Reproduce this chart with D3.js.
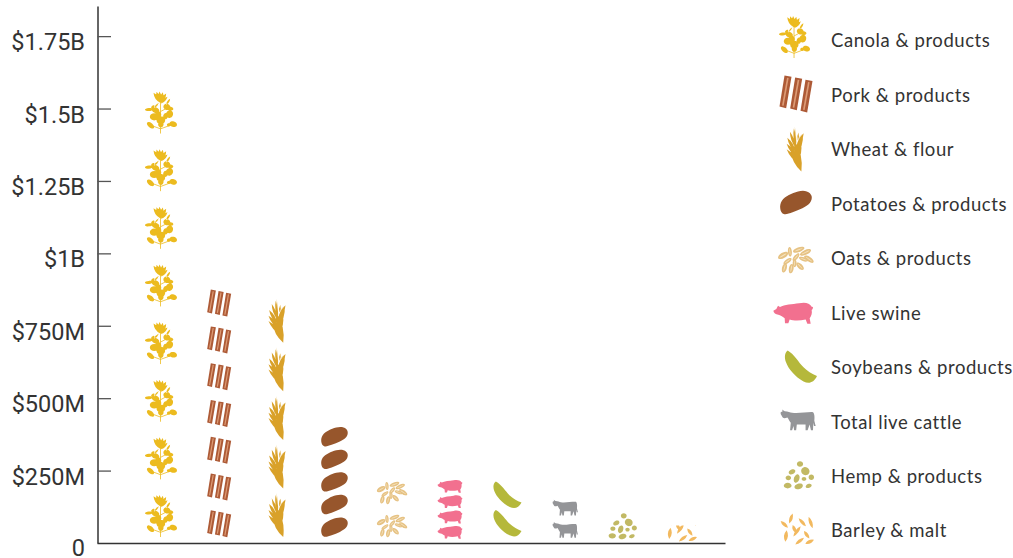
<!DOCTYPE html>
<html>
<head>
<meta charset="utf-8">
<script src="https://cdn.jsdelivr.net/npm/d3@7"></script>
<style>
  html, body { margin: 0; padding: 0; background: #fff; }
  svg { display: block; }
  .y-axis text { font-family: Roboto, sans-serif; font-size: 23.5px; fill: #333; }
  .y-axis .tick line { stroke: #555; stroke-width: 1.3; }
  .y-axis .domain, .x-axis .domain { stroke: #333; stroke-width: 1.5; }
  .legend-label { font-family: Lato, sans-serif; font-size: 18.5px; fill: #333; letter-spacing: 0.55px; }
</style>
</head>
<body>
<div class="vis"></div>
<script>
// farm export pictogram

// data, values in millions of dollars
const CATEGORIES = ['Canola & products', 'Pork & products', 'Wheat & flour', 'Potatoes & products',
                    'Oats & products', 'Live swine', 'Soybeans & products', 'Total live cattle',
                    'Hemp & products', 'Barley & malt'];
const VALUES = [1592, 889, 838, 390, 228, 212, 196, 154, 103, 60];
const ICON_COUNTS = [8, 7, 5, 5, 2, 4, 2, 2, 1, 0.55];
const TICK_VALUES = [0, 250, 500, 750, 1000, 1250, 1500, 1750];
const TICK_LABELS = ['0', '$250M', '$500M', '$750M', '$1B', '$1.25B', '$1.5B', '$1.75B'];

const FRAME_WIDTH = 1013;
const FRAME_HEIGHT = 558;

const FRAME = d3.select('.vis')
    .append('svg')
    .attr('width', FRAME_WIDTH)
    .attr('height', FRAME_HEIGHT);

const Y_SCALE = d3.scaleLinear().domain([0, 1854]).range([543, 6]);
const X_SCALE = d3.scalePoint().domain(CATEGORIES).range([161.5, 680.5]);
const LEGEND_SCALE = d3.scalePoint().domain(CATEGORIES).range([41, 531]);

// lens shape between two points, used for petals, grains, leaves
function lens(x1, y1, x2, y2, w) {
    const mx = (x1 + x2) / 2, my = (y1 + y2) / 2;
    const dx = x2 - x1, dy = y2 - y1;
    const len = Math.sqrt(dx * dx + dy * dy);
    const nx = -dy / len * w * 2, ny = dx / len * w * 2;
    return `M${x1},${y1}Q${mx + nx},${my + ny} ${x2},${y2}Q${mx - nx},${my - ny} ${x1},${y1}Z`;
}

function blob(cx, cy, rx, ry, rot) {
    return d3.line().curve(d3.curveBasisClosed)(d3.range(8).map((i) => {
        const a = i / 8 * Math.PI * 2;
        const r = rot * Math.PI / 180;
        const ex = Math.cos(a) * rx * 1.3, ey = Math.sin(a) * ry * 1.3;
        return [cx + ex * Math.cos(r) - ey * Math.sin(r), cy + ex * Math.sin(r) + ey * Math.cos(r)];
    }));
}

// icon drawings, each in its own little coordinate box
const ICONS = {
    'Canola & products': {box: [96, 126], size: [32, 42], legend: [795, 37], legendSize: [31, 42], gap: 6, draw: (g) => {
        const c = '#ecbb1f';
        const parts = [
            lens(44, 34, 24, 4, 5), lens(44, 34, 33, 1, 5), lens(44, 34, 42, 0, 5), lens(45, 34, 52, 2, 5),
            lens(45, 34, 62, 6, 5), lens(46, 36, 66, 16, 4), lens(62, 40, 74, 22, 3), lens(26, 50, 40, 34, 2.5),
            blob(30, 56, 10, 7, 20), blob(10, 54, 10, 4, -5), blob(64, 46, 9, 8, 20), blob(73, 51, 9, 5, 10),
            blob(26, 76, 11, 9, 0), blob(38, 70, 8, 9, 0), blob(72, 68, 9, 10, 30), blob(46, 86, 11, 10, 0),
            blob(46, 98, 7, 8, 0), blob(15, 101, 11, 6, 40), blob(83, 98, 10, 7, 15), blob(60, 74, 6, 8, 10),
            blob(70, 100, 5, 4, 0), blob(22, 46, 5, 3, -40)
        ];
        g.append('path').attr('d', parts.join('')).attr('fill', c);
        g.append('path').attr('d', 'M45,126L45,25M45,112L18,102M45,112L78,100M45,90L24,78M45,60L68,48')
            .attr('fill', 'none').attr('stroke', c).attr('stroke-width', 2.4);
    }},
    'Pork & products': {box: [99, 112], size: [24, 27], legend: [796, 94], legendSize: [33, 37], gap: 5.7, draw: (g) => {
        [[0, 0], [32, 6], [63, 13]].forEach((s) => {
            g.append('path')
                .attr('d', `M${s[0] + 15},${s[1] + 0}L${s[0] + 36},${s[1] + 4}L${s[0] + 20},${s[1] + 99}L${s[0]},${s[1] + 94}Z`)
                .attr('fill', '#ad5a36');
            g.append('path')
                .attr('d', `M${s[0] + 25},${s[1] + 7}L${s[0] + 10},${s[1] + 91}`)
                .attr('stroke', '#dd9c76').attr('stroke-width', 5).attr('fill', 'none');
        });
    }},
    'Wheat & flour': {box: [55, 135], size: [18, 44], legend: [795, 149], legendSize: [18, 45], gap: 6, draw: (g) => {
        const parts = [
            lens(47, 135, 14, 72, 7), lens(47, 135, 26, 42, 9), lens(40, 112, 2, 68, 5), lens(34, 92, 2, 52, 5),
            lens(30, 78, 4, 34, 5), lens(28, 62, 12, 16, 4), lens(30, 60, 24, 6, 4), lens(32, 62, 54, 20, 5),
            lens(32, 88, 52, 24, 6), lens(34, 108, 46, 50, 6), lens(36, 42, 38, 18, 2.5)
        ];
        g.append('path').attr('d', parts.join('')).attr('fill', '#d9a129');
        g.append('path').attr('d', lens(27, 0, 30, 40, 1.5) + lens(50, 22, 36, 40, 1)).attr('fill', '#eecf8e');
    }},
    'Potatoes & products': {box: [92, 68], size: [26, 19], legend: [796, 203], legendSize: [31, 23], gap: 6, draw: (g) => {
        g.append('path')
            .attr('d', d3.line().curve(d3.curveBasisClosed)([[-3, 50], [1, 26], [24, 10], [52, -2], [80, -3], [96, 12], [90, 36], [66, 50], [36, 62], [6, 72]]))
            .attr('fill', '#97562c');
    }},
    'Oats & products': {box: [100, 77], size: [29, 22], legend: [796, 260], legendSize: [34, 26], gap: 6, draw: (g) => {
        const grains = [[12, 25, 7, 14, 60], [32, 14, 5, 12, -5], [58, 8, 6, 15, 70], [78, 16, 6, 15, 65], [88, 36, 6, 14, 125],
            [25, 42, 5, 12, 55], [50, 30, 5, 12, 40], [72, 36, 5, 12, 110], [16, 62, 6, 12, 15], [36, 64, 6, 12, 10], [62, 57, 6, 12, 135], [46, 48, 5, 10, 0]];
        grains.forEach((d) => {
            g.append('path').attr('d', blob(d[0], d[1], d[2], d[3], d[4])).attr('fill', '#e6c283');
            g.append('path').attr('d', blob(d[0], d[1], d[2] * 0.2, d[3] * 0.7, d[4])).attr('fill', '#f5e3c0');
        });
    }},
    'Live swine': {box: [120, 65], size: [25, 13.5], legend: [793, 313], legendSize: [40, 22], gap: 4, draw: (g) => {
        g.append('path')
            .attr('d', 'M1,26L10,21L15,11L21,15C34,8 58,7 78,4C94,0 110,2 116,14L120,15L119,21L116,24C118,34 115,42 110,48L113,64L103,64L98,52C80,56 62,56 50,52L46,63L36,63L35,48C28,44 22,39 16,38C8,37 2,32 1,26Z')
            .attr('fill', '#f2708f');
    }},
    'Soybeans & products': {box: [95, 98], size: [28, 27], legend: [801, 367], legendSize: [32, 33], gap: 6, draw: (g) => {
        g.append('path')
            .attr('d', 'M8,0C-2,8 -2,22 3,35C10,55 30,78 55,92C70,100 85,97 95,76C80,70 65,60 55,50C40,35 28,12 8,0Z')
            .attr('fill', '#b5b83b');
    }},
    'Total live cattle': {box: [107, 64], size: [26, 16], legend: [798, 420], legendSize: [36, 21], gap: 5, draw: (g) => {
        g.append('path')
            .attr('d', 'M2,8L8,5L6,0L14,5C24,6 30,8 36,10C55,13 80,7 98,8C103,12 103,24 102,34L106,50L101,50L99,40L98,63L92,63L88,46L82,63L76,63L76,46C66,46 58,46 50,46L48,63L42,63L40,50L36,63L30,63L32,40C28,34 26,30 22,24C16,26 12,28 8,24L2,14Z')
            .attr('fill', '#949598');
    }},
    'Hemp & products': {box: [90, 83], size: [28, 26], legend: [799, 475], legendSize: [30, 28], gap: 4, draw: (g) => {
        const seeds = [[48, 9, 8, 7, 0], [24, 32, 9, 6, -25], [64, 30, 11, 10, 30], [82, 48, 7, 7, 0], [13, 50, 7, 6, 0], [38, 52, 7, 11, 20],
            [60, 53, 6, 5, 0], [11, 73, 10, 7, 0], [44, 75, 11, 7, -15], [74, 74, 8, 5, -20]];
        seeds.forEach((d) => {
            g.append('path').attr('d', blob(d[0], d[1], d[2], d[3], d[4])).attr('fill', '#c2b964');
        });
    }},
    'Barley & malt': {box: [102, 92], size: [33, 30], legend: [797, 529], legendSize: [34, 31], gap: 1.5, draw: (g) => {
        const parts = [lens(2, 22, 24, 42, 5), lens(38, 0, 28, 30, 5), lens(56, 14, 78, 38, 5), lens(86, 10, 98, 44, 5),
            lens(38, 34, 48, 58, 5), lens(16, 84, 20, 50, 6), lens(40, 68, 62, 38, 5), lens(72, 52, 88, 74, 5),
            lens(46, 92, 72, 72, 5), lens(76, 90, 102, 78, 5)];
        g.append('path').attr('d', parts.join('')).attr('fill', '#f2b95f');
    }}
};

// icon drawings as reusable symbols
const DEFS = FRAME.append('defs');
CATEGORIES.forEach((c, i) => {
    const icon = ICONS[c];
    const sym = DEFS.append('symbol')
        .attr('id', 'icon' + i)
        .attr('viewBox', `0 0 ${icon.box[0]} ${icon.box[1]}`)
        .attr('preserveAspectRatio', 'none')
        .attr('overflow', 'visible');
    icon.draw(sym);
});

// one row per icon in the stack
const STACKED = [];
CATEGORIES.forEach((c, i) => {
    const perIcon = VALUES[i] / ICON_COUNTS[i];
    for (let k = 0; k < ICON_COUNTS[i]; k++) {
        STACKED.push({cat: c, idx: i, base: perIcon * k, top: perIcon * Math.min(k + 1, ICON_COUNTS[i]), whole: k + 1 <= ICON_COUNTS[i]});
    }
});

// partly filled icons get cut off at their value
STACKED.filter((d) => !d.whole).forEach((d) => {
    DEFS.append('clipPath').attr('id', 'cut' + d.idx)
        .append('rect')
        .attr('x', 0)
        .attr('y', Y_SCALE(d.top))
        .attr('width', FRAME_WIDTH)
        .attr('height', FRAME_HEIGHT);
});

FRAME.selectAll('.pict')
    .data(STACKED)
    .enter().append('g')
    .attr('class', 'pict')
    .attr('clip-path', (d) => d.whole ? null : `url(#cut${d.idx})`)
    .append('use')
    .attr('href', (d) => '#icon' + d.idx)
    .attr('width', (d) => ICONS[d.cat].size[0])
    .attr('height', (d) => ICONS[d.cat].size[1])
    .attr('x', (d) => X_SCALE(d.cat) - ICONS[d.cat].size[0] / 2)
    .attr('y', (d) => Y_SCALE(d.base) - ICONS[d.cat].gap - ICONS[d.cat].size[1]);

// axes
const Y_AXIS = FRAME.append('g')
    .attr('class', 'y-axis')
    .attr('transform', 'translate(97.5,0)')
    .call(d3.axisLeft(Y_SCALE)
        .tickValues(TICK_VALUES)
        .tickFormat((d, i) => TICK_LABELS[i])
        .tickSizeInner(-13.5)
        .tickSizeOuter(0)
        .tickPadding(12.5));
Y_AXIS.selectAll('.tick text').attr('dy', (d) => d === 0 ? '0.53em' : '0.58em');
Y_AXIS.selectAll('.tick').filter((d) => d === 0).select('line').remove();

FRAME.append('g')
    .attr('class', 'x-axis')
    .attr('transform', 'translate(0,543)')
    .call(d3.axisBottom(d3.scaleLinear().range([97, 725])).tickValues([]).tickSizeOuter(0));

// legend
const LEGEND = FRAME.selectAll('.legend')
    .data(CATEGORIES)
    .enter().append('g')
    .attr('class', 'legend');

LEGEND.append('use')
    .attr('href', (d, i) => '#icon' + i)
    .attr('width', (d) => ICONS[d].legendSize[0])
    .attr('height', (d) => ICONS[d].legendSize[1])
    .attr('x', (d) => ICONS[d].legend[0] - ICONS[d].legendSize[0] / 2)
    .attr('y', (d) => ICONS[d].legend[1] - ICONS[d].legendSize[1] / 2);

LEGEND.append('text')
    .attr('class', 'legend-label')
    .attr('x', 831)
    .attr('y', (d) => LEGEND_SCALE(d))
    .attr('dy', '0.35em')
    .text((d) => d);
</script>
</body>
</html>
